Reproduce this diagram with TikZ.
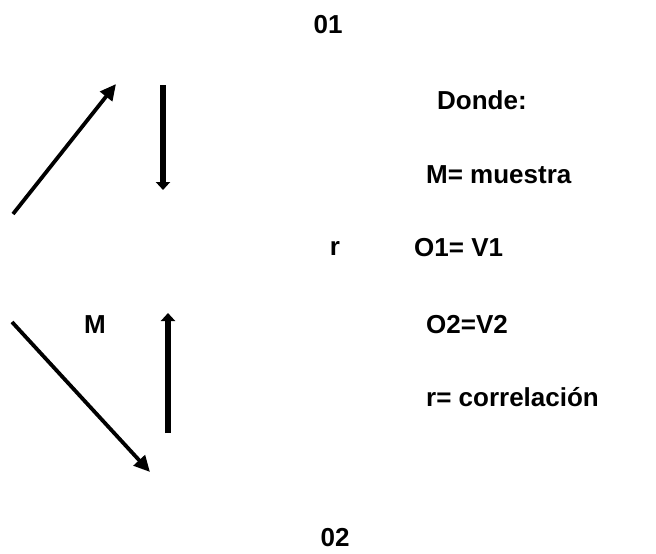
\documentclass[tikz,border=0pt]{standalone}
\usepackage{fontspec}
\setmainfont{Liberation Sans}
\usetikzlibrary{arrows.meta}
\begin{document}
\begin{tikzpicture}[x=1pt,y=-1pt,
  lbl/.style={font=\fontsize{26}{31}\selectfont\bfseries, inner sep=0pt},
  lft/.style={lbl, anchor=west},
  thinarrow/.style={line width=3.8pt, -{Triangle[length=16pt,width=15pt]}},
  thickarrow/.style={line width=6.5pt, -{Triangle[length=8pt,width=14pt]}}]
  \useasboundingbox (0,0) rectangle (656,554);
  % labels
  \node[lbl] (o1) at (328,25) {01};
  \node[lbl] (o2) at (335,538) {02};
  \node[lbl] (m) at (95,325) {M};
  \node[lbl] (r) at (335,248) {r};
  \node[lft] (donde) at (437,100) {Donde:};
  \node[lft] (lm) at (426,175) {M= muestra};
  \node[lft] (lo1) at (414,248) {O1= V1};
  \node[lft] (lo2) at (426,325) {O2=V2};
  \node[lft] (lr) at (426,397) {r= correlación};
  % arrow end points
  \coordinate (a1s) at (13,214);
  \coordinate (a1e) at (116,84);
  \coordinate (b1s) at (163,85);
  \coordinate (b1e) at (163,190);
  \coordinate (a2s) at (12,322);
  \coordinate (a2e) at (150,472);
  \coordinate (b2s) at (168,433);
  \coordinate (b2e) at (168,313);
  % arrows
  \draw[thinarrow] (a1s) -- (a1e);
  \draw[thickarrow] (b1s) -- (b1e);
  \draw[thinarrow] (a2s) -- (a2e);
  \draw[thickarrow] (b2s) -- (b2e);
\end{tikzpicture}
\end{document}
